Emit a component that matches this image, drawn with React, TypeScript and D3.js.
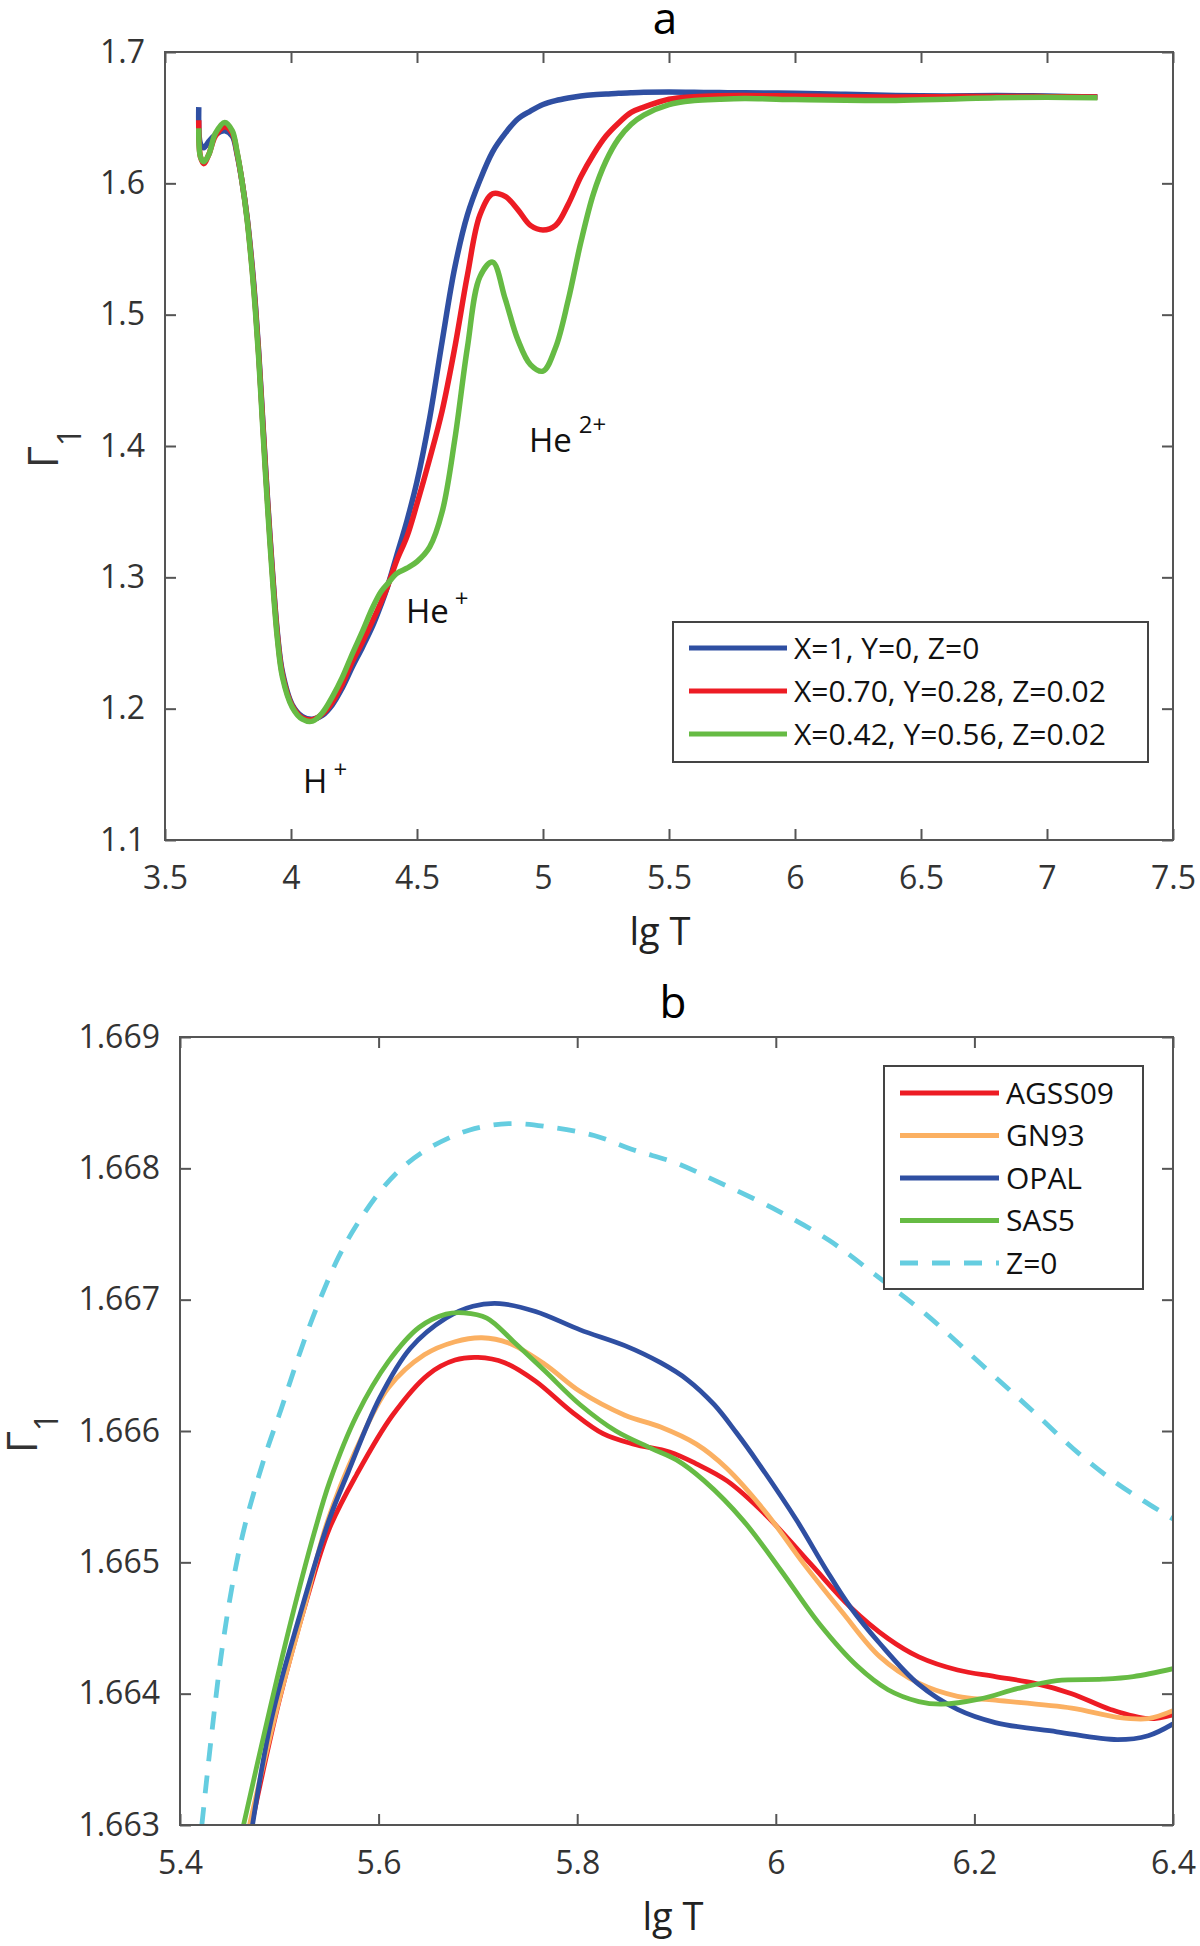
import React, { useEffect, useRef } from "react";
import * as d3 from "d3";

const FONT = "'Open Sans', 'Noto Sans', sans-serif";

// ---- panel a: Gamma_1 vs lg T for three compositions
const lgTA = [
  3.634, 3.641, 3.654, 3.674, 3.7, 3.737, 3.767, 3.786, 3.806, 3.826, 3.846,
  3.859, 3.873, 3.886, 3.899, 3.912, 3.926, 3.946, 3.966, 4.005, 4.045, 4.085,
  4.125, 4.164, 4.204, 4.244, 4.284, 4.324, 4.357, 4.383, 4.42, 4.46, 4.5,
  4.55, 4.6, 4.65, 4.7, 4.75, 4.8, 4.85, 4.9, 4.95, 5.0, 5.05, 5.1, 5.15, 5.2,
  5.25, 5.3, 5.35, 5.4, 5.5, 5.6, 5.7, 5.8, 6.0, 6.2, 6.4, 6.6, 6.8, 7.0, 7.2,
];
const gammaX100 = [
  1.658, 1.63, 1.627, 1.632, 1.637, 1.64, 1.636, 1.622, 1.601, 1.574, 1.537,
  1.507, 1.468, 1.426, 1.384, 1.345, 1.306, 1.258, 1.228, 1.203, 1.194, 1.192,
  1.195, 1.203, 1.216, 1.232, 1.247, 1.263, 1.279, 1.293, 1.317, 1.343, 1.373,
  1.421, 1.48, 1.536, 1.576, 1.6025, 1.624, 1.638, 1.649, 1.655, 1.66, 1.663,
  1.665, 1.6665, 1.6675, 1.668, 1.6686, 1.669, 1.6693, 1.6695, 1.6693, 1.6691,
  1.669, 1.6685, 1.6678, 1.6668, 1.6665, 1.6668, 1.6665, 1.6657,
];
const gammaX070 = [
  1.648, 1.62, 1.615, 1.622, 1.636, 1.643, 1.638, 1.623, 1.601, 1.573, 1.535,
  1.505, 1.466, 1.424, 1.382, 1.343, 1.304, 1.256, 1.226, 1.202, 1.193, 1.1915,
  1.196, 1.205, 1.219, 1.236, 1.251, 1.267, 1.281, 1.293, 1.313, 1.331, 1.356,
  1.39, 1.427, 1.475, 1.53, 1.576, 1.592, 1.59, 1.58, 1.568, 1.5645, 1.568,
  1.584, 1.605, 1.622, 1.636, 1.646, 1.654, 1.658, 1.664, 1.666, 1.6667,
  1.6668, 1.6665, 1.666, 1.6658, 1.666, 1.6662, 1.666, 1.6657,
];
const gammaX042 = [
  1.642, 1.62, 1.6165, 1.622, 1.638, 1.6464, 1.64, 1.624, 1.601, 1.572, 1.533,
  1.502, 1.463, 1.42, 1.378, 1.339, 1.3, 1.253, 1.224, 1.201, 1.192, 1.1905,
  1.197, 1.209, 1.224, 1.242, 1.259, 1.277, 1.289, 1.295, 1.303, 1.307, 1.312,
  1.323, 1.35, 1.405, 1.475, 1.529, 1.54, 1.512, 1.481, 1.462, 1.457, 1.475,
  1.511, 1.555, 1.592, 1.617, 1.634, 1.645, 1.652, 1.66, 1.663, 1.664, 1.6645,
  1.6638, 1.6632, 1.6631, 1.664, 1.6652, 1.6655, 1.6652,
];
const labelsA = ["X=1, Y=0, Z=0", "X=0.70, Y=0.28, Z=0.02", "X=0.42, Y=0.56, Z=0.02"];
const xTicksA = [3.5, 4, 4.5, 5, 5.5, 6, 6.5, 7, 7.5];
const yTicksA = [1.1, 1.2, 1.3, 1.4, 1.5, 1.6, 1.7];

// ---- panel b: zoom on the plateau for several mixtures
const agss09T = [
  5.472, 5.5, 5.527, 5.55, 5.578, 5.614, 5.65, 5.677, 5.7, 5.727, 5.758, 5.794,
  5.826, 5.857, 5.893, 5.92, 5.951, 5.99, 6.036, 6.075, 6.113, 6.144, 6.183,
  6.221, 6.26, 6.298, 6.337, 6.375, 6.4,
];
const agss09G = [
  1.663, 1.66395, 1.6647, 1.66525, 1.66567, 1.66612, 1.66643, 1.66654, 1.66656,
  1.66652, 1.66638, 1.66615, 1.66598, 1.6659, 1.66584, 1.66575, 1.66562,
  1.66536, 1.66498, 1.66466, 1.66442, 1.66428, 1.66418, 1.66413, 1.66408,
  1.664, 1.66388, 1.66381, 1.66384,
];
const gn93T = [
  5.47, 5.498, 5.525, 5.548, 5.578, 5.61, 5.646, 5.677, 5.704, 5.731, 5.767,
  5.803, 5.848, 5.884, 5.92, 5.95, 5.99, 6.028, 6.067, 6.105, 6.144, 6.183,
  6.221, 6.298, 6.344, 6.375, 6.4,
];
const gn93G = [
  1.663, 1.6639, 1.66465, 1.6653, 1.66587, 1.66633, 1.66658, 1.66668, 1.66671,
  1.66667, 1.66651, 1.6663, 1.66612, 1.66603, 1.6659, 1.66572, 1.66538,
  1.66499, 1.66462, 1.66428, 1.66408, 1.66398, 1.66395, 1.66389, 1.66382,
  1.66381, 1.66387,
];
const opalT = [
  5.473, 5.4925, 5.52, 5.55, 5.569, 5.601, 5.632, 5.668, 5.695, 5.722, 5.758,
  5.803, 5.848, 5.884, 5.911, 5.938, 5.96, 5.982, 6.021, 6.051, 6.075, 6.105,
  6.144, 6.183, 6.221, 6.283, 6.344, 6.375, 6.4,
];
const opalG = [
  1.663, 1.66382, 1.66458, 1.66532, 1.66568, 1.66625, 1.66663, 1.66686,
  1.66695, 1.66697, 1.66691, 1.66677, 1.66665, 1.66652, 1.66639, 1.6662,
  1.66599, 1.66576, 1.66532, 1.66494, 1.66466, 1.66438, 1.66407, 1.66388,
  1.66378, 1.66371, 1.66365, 1.66368, 1.66377,
];
const sas5T = [
  5.464, 5.488, 5.512, 5.535, 5.551, 5.578, 5.61, 5.641, 5.668, 5.686, 5.709,
  5.736, 5.767, 5.803, 5.839, 5.874, 5.9, 5.928, 5.967, 6.005, 6.044, 6.082,
  6.113, 6.144, 6.167, 6.206, 6.244, 6.283, 6.329, 6.36, 6.4,
];
const sas5G = [
  1.663, 1.6638, 1.66456, 1.66522, 1.66562, 1.66612, 1.66653, 1.66679, 1.66689,
  1.6669, 1.66686, 1.66668, 1.66646, 1.6662, 1.666, 1.66587, 1.66578, 1.66562,
  1.66532, 1.66494, 1.66453, 1.66421, 1.66403, 1.66394, 1.66392, 1.66396,
  1.66404, 1.6641, 1.66411, 1.66413, 1.66419,
];
const z0T = [
  5.422, 5.432, 5.442, 5.454, 5.466, 5.486, 5.502, 5.5155, 5.529, 5.5425, 5.56,
  5.578, 5.601, 5.623, 5.65, 5.691, 5.731, 5.776, 5.817, 5.857, 5.9, 5.938,
  5.996, 6.054, 6.1, 6.151, 6.208, 6.259, 6.305, 6.34, 6.37, 6.4,
];
const z0G = [
  1.663, 1.6637, 1.66432, 1.66488, 1.6653, 1.66582, 1.66617, 1.66648, 1.66677,
  1.66703, 1.66733, 1.66757, 1.66782, 1.668, 1.66815, 1.66829, 1.66834,
  1.66831, 1.66825, 1.66814, 1.66804, 1.66791, 1.6677, 1.66745, 1.66719,
  1.66689, 1.6665, 1.66615, 1.66583, 1.66562, 1.66547, 1.66533,
];
const labelsB = ["AGSS09", "GN93", "OPAL", "SAS5", "Z=0"];
const xTicksB = [5.4, 5.6, 5.8, 6, 6.2, 6.4];
const yTicksB = [1.663, 1.664, 1.665, 1.666, 1.667, 1.668, 1.669];

const BLUE = "#2f4fa2";
const RED = "#ed1c24";
const GREEN = "#66bb44";
const ORANGE = "#fbb062";
const CYAN = "#65cde0";

type Sel = d3.Selection<SVGGElement, unknown, null, undefined>;

function drawFrame(
  g: Sel,
  x: d3.ScaleLinear<number, number>,
  y: d3.ScaleLinear<number, number>,
  xTicks: number[],
  yTicks: number[],
  yFmt: (d: number) => string
) {
  const [x0, x1] = x.range();
  const [y0, y1] = y.range();
  const style = (s: Sel) => {
    s.select(".domain").remove();
    s.attr("color", "#555").attr("font-size", 32).attr("font-family", FONT);
    s.selectAll("line").attr("stroke-width", 2);
    s.selectAll("text").attr("fill", "#333");
  };
  g.append("g")
    .attr("transform", `translate(0,${y0})`)
    .call(d3.axisBottom(x).tickValues(xTicks).tickSizeInner(-11).tickSizeOuter(0).tickPadding(26).tickFormat((d) => String(d)))
    .call(style);
  g.append("g")
    .attr("transform", `translate(0,${y1})`)
    .call(d3.axisTop(x).tickValues(xTicks).tickSizeInner(-11).tickSizeOuter(0).tickFormat(() => ""))
    .call(style);
  g.append("g")
    .attr("transform", `translate(${x0},0)`)
    .call(d3.axisLeft(y).tickValues(yTicks).tickSizeInner(-11).tickSizeOuter(0).tickPadding(20).tickFormat((d) => yFmt(+d)))
    .call(style);
  g.append("g")
    .attr("transform", `translate(${x1},0)`)
    .call(d3.axisRight(y).tickValues(yTicks).tickSizeInner(-11).tickSizeOuter(0).tickFormat(() => ""))
    .call(style);
  g.append("rect")
    .attr("x", x0)
    .attr("y", y1)
    .attr("width", x1 - x0)
    .attr("height", y0 - y1)
    .attr("fill", "none")
    .attr("stroke", "#555")
    .attr("stroke-width", 2);
}

function drawLegend(
  g: Sel,
  box: { x: number; y: number; w: number; h: number },
  rows: { label: string; color: string; dash?: string }[],
  first: number,
  step: number,
  lineX: [number, number],
  width: number
) {
  g.append("rect")
    .attr("x", box.x)
    .attr("y", box.y)
    .attr("width", box.w)
    .attr("height", box.h)
    .attr("fill", "#fff")
    .attr("stroke", "#444")
    .attr("stroke-width", 2);
  rows.forEach((r, i) => {
    const yy = first + i * step;
    g.append("line")
      .attr("x1", lineX[0])
      .attr("x2", lineX[1])
      .attr("y1", yy)
      .attr("y2", yy)
      .attr("stroke", r.color)
      .attr("stroke-width", width)
      .attr("stroke-dasharray", r.dash ?? null);
    g.append("text")
      .attr("x", lineX[1] + 7)
      .attr("y", yy)
      .attr("dy", "0.36em")
      .attr("font-family", FONT)
      .attr("font-size", 30)
      .attr("fill", "#111")
      .text(r.label);
  });
}

const App: React.FC = () => {
  const svgRef = useRef<SVGSVGElement | null>(null);

  useEffect(() => {
    const svg = d3.select(svgRef.current);
    svg.selectAll("*").remove();
    const root = svg.append("g") as unknown as Sel;

    const line = (xs: d3.ScaleLinear<number, number>, ys: d3.ScaleLinear<number, number>) =>
      d3
        .line<[number, number]>()
        .x((d) => xs(d[0]))
        .y((d) => ys(d[1]))
        .curve(d3.curveCatmullRom.alpha(0.5));

    // ===== panel a
    const xa = d3.scaleLinear().domain([3.5, 7.5]).range([165, 1173]);
    const ya = d3.scaleLinear().domain([1.1, 1.7]).range([840, 52]);
    const ga = root.append("g");

    const seriesA = [
      { v: gammaX100, color: BLUE },
      { v: gammaX070, color: RED },
      { v: gammaX042, color: GREEN },
    ];
    seriesA.forEach((s) => {
      ga.append("path")
        .datum(lgTA.map((t, i) => [t, s.v[i]] as [number, number]))
        .attr("d", line(xa, ya))
        .attr("fill", "none")
        .attr("stroke", s.color)
        .attr("stroke-width", 5.5)
        .attr("stroke-linejoin", "round");
    });

    drawFrame(ga, xa, ya, xTicksA, yTicksA, d3.format(".1f"));

    const notes = [
      { t: 4.048, g: 1.1356, base: "H", sup: "+", dx: 6, dy: -15 },
      { t: 4.456, g: 1.2653, base: "He", sup: "+", dx: 6, dy: -16 },
      { t: 4.944, g: 1.3956, base: "He", sup: "2+", dx: 7, dy: -19 },
    ];
    notes.forEach((n) => {
      const tx = ga
        .append("text")
        .attr("x", xa(n.t))
        .attr("y", ya(n.g))
        .attr("font-family", FONT)
        .attr("font-size", 33)
        .attr("fill", "#111");
      tx.append("tspan").text(n.base);
      tx.append("tspan").attr("dx", n.dx).attr("dy", n.dy).attr("font-size", 24).text(n.sup);
    });

    drawLegend(
      ga,
      { x: 673, y: 622, w: 475, h: 140 },
      labelsA.map((l, i) => ({ label: l, color: seriesA[i].color })),
      648,
      43,
      [689, 787],
      5
    );

    ga.append("text")
      .attr("x", 665)
      .attr("y", 34)
      .attr("text-anchor", "middle")
      .attr("font-family", FONT)
      .attr("font-size", 44)
      .attr("fill", "#000")
      .text("a");
    ga.append("text")
      .attr("x", 660)
      .attr("y", 945)
      .attr("text-anchor", "middle")
      .attr("font-family", FONT)
      .attr("font-size", 38)
      .attr("fill", "#222")
      .text("lg T");
    const gla = ga
      .append("text")
      .attr("transform", "translate(58,468) rotate(-90)")
      .attr("font-family", FONT)
      .attr("fill", "#333");
    gla.append("tspan").attr("font-size", 42).text("Γ");
    gla.append("tspan").attr("font-size", 32).attr("dy", 23).text("1");

    // ===== panel b
    const xb = d3.scaleLinear().domain([5.4, 6.4]).range([180, 1173]);
    const yb = d3.scaleLinear().domain([1.663, 1.669]).range([1825, 1037]);
    const gb = root.append("g");
    gb.append("clipPath")
      .attr("id", "clipB")
      .append("rect")
      .attr("x", 180)
      .attr("y", 1037)
      .attr("width", 993)
      .attr("height", 788);

    const seriesB = [
      { t: agss09T, v: agss09G, color: RED, dash: undefined as string | undefined },
      { t: gn93T, v: gn93G, color: ORANGE, dash: undefined },
      { t: opalT, v: opalG, color: BLUE, dash: undefined },
      { t: sas5T, v: sas5G, color: GREEN, dash: undefined },
      { t: z0T, v: z0G, color: CYAN, dash: "18 14" },
    ];
    const plotB = gb.append("g").attr("clip-path", "url(#clipB)");
    seriesB.forEach((s) => {
      plotB
        .append("path")
        .datum(s.t.map((t, i) => [t, s.v[i]] as [number, number]))
        .attr("d", line(xb, yb))
        .attr("fill", "none")
        .attr("stroke", s.color)
        .attr("stroke-width", 4.8)
        .attr("stroke-dasharray", s.dash ?? null);
    });

    drawFrame(gb, xb, yb, xTicksB, yTicksB, d3.format(".3f"));

    drawLegend(
      gb,
      { x: 884, y: 1066, w: 259, h: 223 },
      labelsB.map((l, i) => ({ label: l, color: seriesB[i].color, dash: seriesB[i].dash })),
      1093,
      42.5,
      [900, 999],
      4.8
    );

    gb.append("text")
      .attr("x", 673)
      .attr("y", 1018)
      .attr("text-anchor", "middle")
      .attr("font-family", FONT)
      .attr("font-size", 44)
      .attr("fill", "#000")
      .text("b");
    gb.append("text")
      .attr("x", 673)
      .attr("y", 1930)
      .attr("text-anchor", "middle")
      .attr("font-family", FONT)
      .attr("font-size", 38)
      .attr("fill", "#222")
      .text("lg T");
    const glb = gb
      .append("text")
      .attr("transform", "translate(37,1453) rotate(-90)")
      .attr("font-family", FONT)
      .attr("fill", "#333");
    glb.append("tspan").attr("font-size", 42).text("Γ");
    glb.append("tspan").attr("font-size", 32).attr("dy", 21).text("1");
  }, []);

  return (
    <svg
      ref={svgRef}
      width={1200}
      height={1946}
      style={{ position: "absolute", left: 0, top: 0, background: "#fff" }}
    />
  );
};

export default App;
